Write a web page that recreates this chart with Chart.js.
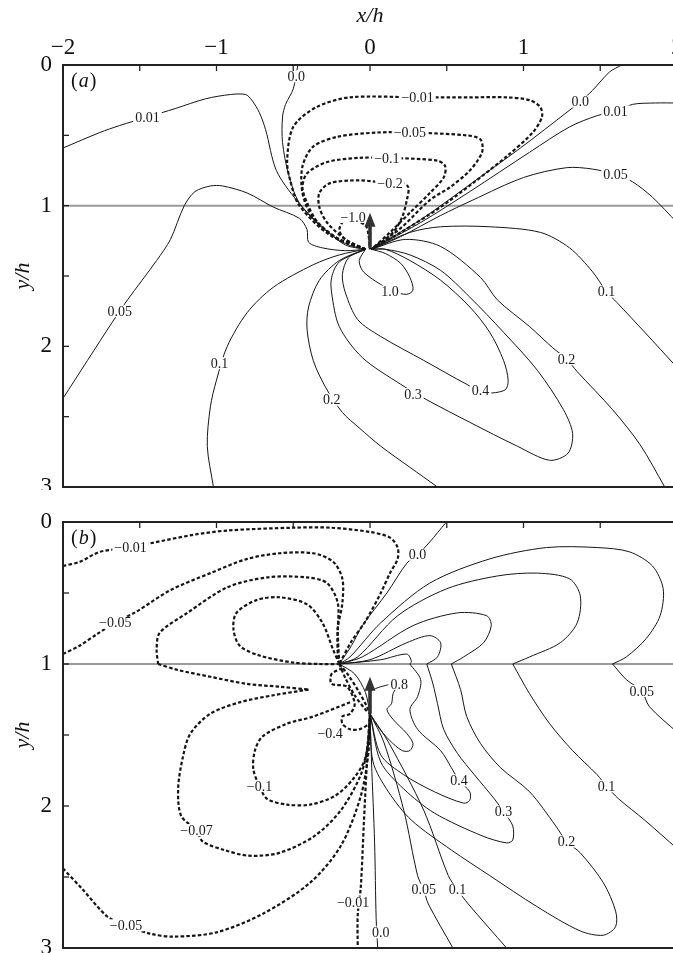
<!DOCTYPE html>
<html><head><meta charset="utf-8">
<script src="https://cdn.jsdelivr.net/npm/chart.js@4.4.1/dist/chart.umd.min.js"></script>
<style>
html,body{margin:0;padding:0;background:#fff;overflow:hidden;width:673px;height:953px;}
#wa{position:absolute;left:0;top:0;width:700px;height:490px;}
#wb{position:absolute;left:0;top:490px;width:700px;height:463px;}
</style></head><body>
<div id="wa"><canvas id="ca" width="700" height="490"></canvas></div>
<div id="wb"><canvas id="cb" width="700" height="463"></canvas></div>
<script>
// ---------- axes ----------
const xRange = [-2, 2];
const yRange = [0, 3];
const xTickMarks = [-2,-1.5,-1,-0.5,0,0.5,1,1.5,2];
const yTickMarks = [0,0.5,1,1.5,2,2.5,3];
const interfaceY = 1;

// ---------- panel (a) contours: [x/h, y/h] ----------
const a_p001L = [[-2.0,0.59],[-1.76,0.48],[-1.63,0.43],[-1.45,0.37],[-1.27,0.31],[-1.07,0.24],[-0.91,0.21],[-0.81,0.21],[-0.77,0.25],[-0.72,0.34],[-0.68,0.46],[-0.61,0.75],[-0.48,0.96],[-0.33,1.14],[-0.16,1.27],[-0.03,1.31]];
const a_p00L = [[-0.47,0],[-0.50,0.17],[-0.55,0.28],[-0.57,0.37],[-0.57,0.55],[-0.53,0.78],[-0.46,0.98],[-0.29,1.17],[-0.16,1.28],[-0.03,1.31]];
const a_p005L = [[-2.0,2.37],[-1.68,1.83],[-1.58,1.67],[-1.39,1.39],[-1.30,1.24],[-1.21,1.0],[-1.14,0.90],[-1.04,0.86],[-0.96,0.86],[-0.80,0.91],[-0.63,1.01],[-0.46,1.09],[-0.41,1.17],[-0.40,1.26],[-0.31,1.30],[-0.16,1.32],[-0.03,1.31]];
const a_p01L = [[-1.02,3.0],[-1.06,2.71],[-1.04,2.43],[-1.0,2.24],[-0.93,2.0],[-0.80,1.76],[-0.63,1.58],[-0.37,1.42],[-0.20,1.35],[-0.03,1.31]];
const a_p02L = [[-0.03,1.31],[-0.20,1.39],[-0.33,1.53],[-0.40,1.72],[-0.41,1.88],[-0.37,2.10],[-0.29,2.29],[-0.18,2.47],[-0.07,2.58],[0.07,2.71],[0.26,2.86],[0.44,3.0]];
const a_p03 = [[-0.03,1.31],[-0.20,1.40],[-0.25,1.51],[-0.25,1.62],[-0.20,1.86],[-0.05,2.08],[0.20,2.27],[0.37,2.38],[0.65,2.54],[0.96,2.71],[1.17,2.81],[1.29,2.76],[1.32,2.62],[1.26,2.45],[1.09,2.17],[0.87,1.90],[0.65,1.65],[0.46,1.46],[0.26,1.35],[0.10,1.31],[0.01,1.31]];
const a_p04 = [[-0.03,1.31],[-0.14,1.37],[-0.18,1.49],[-0.16,1.62],[-0.08,1.81],[0.07,1.93],[0.35,2.10],[0.63,2.27],[0.75,2.33],[0.88,2.31],[0.90,2.24],[0.87,2.10],[0.78,1.90],[0.65,1.72],[0.46,1.53],[0.26,1.39],[0.10,1.31],[0.01,1.31]];
const a_p10 = [[-0.03,1.31],[-0.07,1.39],[-0.05,1.46],[0,1.51],[0.07,1.56],[0.15,1.61],[0.24,1.63],[0.28,1.60],[0.26,1.51],[0.20,1.41],[0.10,1.34],[0.01,1.31]];
const a_p00R = [[0.01,1.31],[0.33,1.10],[0.65,0.85],[0.98,0.59],[1.29,0.33],[1.37,0.26],[1.45,0.18],[1.56,0.05],[1.64,0.0]];
const a_p001R = [[0.01,1.31],[0.33,1.12],[0.65,0.90],[1.04,0.62],[1.30,0.44],[1.48,0.36],[1.60,0.33],[1.71,0.28],[1.86,0.27],[2.0,0.27]];
const a_p005R = [[0.01,1.31],[0.20,1.22],[0.46,1.07],[0.67,0.96],[1.0,0.80],[1.28,0.73],[1.45,0.74],[1.60,0.78],[1.71,0.83],[1.84,0.94],[2.0,1.12]];
const a_p01R = [[0.01,1.31],[0.26,1.19],[0.46,1.15],[0.78,1.15],[1.11,1.19],[1.30,1.30],[1.45,1.47],[1.54,1.61],[1.61,1.69],[1.79,1.90],[2.0,2.15]];
const a_p02R = [[0.01,1.31],[0.23,1.24],[0.46,1.29],[0.72,1.51],[0.83,1.67],[1.04,1.86],[1.19,2.01],[1.28,2.09],[1.35,2.18],[1.58,2.45],[1.76,2.70],[1.92,3.0]];
const a_n001 = [[-0.03,1.31],[-0.26,1.21],[-0.46,1.0],[-0.52,0.82],[-0.54,0.68],[-0.50,0.44],[-0.35,0.30],[-0.13,0.23],[0.31,0.23],[0.65,0.23],[0.89,0.23],[1.04,0.25],[1.11,0.30],[1.12,0.37],[1.06,0.48],[0.89,0.65],[0.67,0.84],[0.46,1.01],[0.20,1.19],[0.01,1.31]];
const a_n005 = [[-0.03,1.31],[-0.23,1.22],[-0.38,1.07],[-0.44,0.91],[-0.44,0.72],[-0.37,0.58],[-0.21,0.51],[0.05,0.48],[0.26,0.48],[0.63,0.50],[0.72,0.53],[0.73,0.62],[0.65,0.75],[0.52,0.87],[0.39,0.96],[0.20,1.16],[0.01,1.31]];
const a_n01 = [[-0.03,1.31],[-0.20,1.24],[-0.34,1.12],[-0.41,0.98],[-0.44,0.87],[-0.41,0.77],[-0.28,0.69],[-0.07,0.66],[0.11,0.66],[0.44,0.68],[0.49,0.72],[0.48,0.80],[0.39,0.91],[0.26,1.05],[0.13,1.19],[0.01,1.31]];
const a_n02 = [[-0.03,1.31],[-0.16,1.24],[-0.28,1.12],[-0.33,1.01],[-0.33,0.91],[-0.26,0.84],[-0.07,0.82],[0.13,0.84],[0.21,0.84],[0.25,0.87],[0.24,0.96],[0.21,1.08],[0.15,1.19],[0.01,1.31]];
const a_n10 = [[-0.03,1.31],[-0.16,1.24],[-0.20,1.17],[-0.15,1.09],[-0.03,1.14],[-0.01,1.21],[0,1.31]];
const a_labels = [["0.01",-1.45,0.37],["0.0",-0.48,0.08],["0.05",-1.63,1.75],["0.1",-0.98,2.12],["0.2",-0.25,2.38],["0.3",0.28,2.34],["0.4",0.72,2.31],["1.0",0.13,1.61],["−1.0",-0.11,1.08],["−0.2",0.13,0.84],["−0.1",0.11,0.66],["−0.05",0.26,0.48],["−0.01",0.31,0.23],["0.0",1.37,0.26],["0.01",1.60,0.33],["0.05",1.60,0.78],["0.1",1.54,1.61],["0.2",1.28,2.09]];
const a_arrow = [0, 1.30, 1.05];

// ---------- panel (b) contours ----------
const b_p00U = [[-0.20,1.0],[-0.12,0.87],[-0.05,0.73],[0.11,0.50],[0.24,0.29],[0.31,0.23],[0.39,0.14],[0.49,0.01],[0.50,0.0]];
const b_p005U = [[-0.20,1.0],[-0.13,0.95],[0.07,0.71],[0.39,0.43],[0.78,0.26],[1.15,0.18],[1.48,0.18],[1.69,0.21],[1.84,0.31],[1.91,0.47],[1.89,0.66],[1.80,0.82],[1.67,0.95],[1.58,1.0]];
const b_p005D = [[1.58,1.0],[1.67,1.11],[1.77,1.19],[1.82,1.30],[2.0,1.48]];
const b_p01U = [[-0.20,1.0],[-0.08,0.95],[0.18,0.66],[0.50,0.47],[0.83,0.38],[1.09,0.36],[1.30,0.40],[1.37,0.52],[1.35,0.71],[1.24,0.85],[1.04,0.95],[0.93,1.0]];
const b_p01D = [[0.93,1.0],[1.04,1.21],[1.17,1.42],[1.32,1.61],[1.48,1.78],[1.54,1.86],[1.62,1.95],[1.79,2.10],[2.0,2.30]];
const b_p02U = [[-0.20,1.0],[-0.05,0.95],[0.28,0.73],[0.57,0.64],[0.76,0.66],[0.79,0.73],[0.74,0.85],[0.61,0.95],[0.53,1.0]];
const b_p02D = [[0.53,1.0],[0.59,1.18],[0.63,1.37],[0.72,1.56],[0.85,1.73],[1.04,1.90],[1.21,2.14],[1.28,2.25],[1.37,2.33],[1.52,2.54],[1.60,2.74],[1.60,2.85],[1.52,2.91],[1.37,2.88],[1.09,2.71],[0.78,2.49],[0.53,2.31],[0.27,2.10],[0.12,1.90],[0.02,1.69],[0,1.35]];
const b_p03U = [[-0.20,1.0],[0,0.97],[0.24,0.85],[0.39,0.80],[0.46,0.85],[0.44,0.95],[0.37,1.0]];
const b_p03D = [[0.37,1.0],[0.41,1.14],[0.44,1.28],[0.48,1.46],[0.57,1.63],[0.68,1.78],[0.81,1.95],[0.87,2.04],[0.93,2.14],[0.93,2.24],[0.89,2.26],[0.73,2.21],[0.42,2.05],[0.22,1.88],[0.07,1.69],[0,1.35]];
const b_p04U = [[-0.20,1.0],[0.07,0.97],[0.24,0.93],[0.27,0.98],[0.26,1.0]];
const b_p04D = [[0.26,1.0],[0.33,1.11],[0.31,1.23],[0.26,1.32],[0.31,1.46],[0.46,1.61],[0.53,1.73],[0.58,1.82],[0.65,1.90],[0.65,1.96],[0.61,1.98],[0.42,1.90],[0.22,1.78],[0.07,1.64],[0,1.35]];
const b_p08 = [[0,1.19],[0.07,1.16],[0.18,1.14],[0.15,1.21],[0.14,1.28],[0.11,1.32],[0.15,1.39],[0.24,1.49],[0.28,1.56],[0.26,1.61],[0.21,1.61],[0.13,1.54],[0.05,1.44],[0.01,1.37]];
const b_p00D = [[0,1.35],[0.01,1.69],[0.03,2.26],[0.04,2.79],[0.05,3.0]];
const b_p005B = [[0,1.35],[0.09,1.55],[0.22,2.03],[0.31,2.49],[0.35,2.59],[0.38,2.69],[0.54,3.0]];
const b_p01B = [[0,1.35],[0.12,1.55],[0.35,2.03],[0.51,2.49],[0.57,2.59],[0.64,2.69],[0.89,3.0]];
const b_bandS = [[-0.20,1.0],[-0.10,1.07],[-0.03,1.2],[0,1.35]];
const b_n001U = [[-2.0,0.31],[-1.89,0.28],[-1.76,0.21],[-1.56,0.18],[-1.43,0.15],[-1.15,0.09],[-0.93,0.06],[-0.50,0.04],[-0.26,0.04],[0,0.07],[0.13,0.11],[0.18,0.18],[0.18,0.26],[0.13,0.36],[0.07,0.50],[-0.03,0.70],[-0.12,0.84],[-0.20,1.0]];
const b_n005U = [[-2.0,0.93],[-1.89,0.87],[-1.78,0.79],[-1.66,0.71],[-1.52,0.63],[-1.30,0.48],[-1.04,0.36],[-0.80,0.26],[-0.59,0.22],[-0.37,0.22],[-0.24,0.28],[-0.18,0.40],[-0.18,0.57],[-0.21,0.75],[-0.21,0.94],[-0.20,1.0]];
const b_n007U = [[-0.20,1.0],[-0.21,0.78],[-0.21,0.57],[-0.28,0.43],[-0.41,0.39],[-0.67,0.39],[-0.93,0.46],[-1.19,0.64],[-1.37,0.78],[-1.39,0.90],[-1.38,1.0]];
const b_n007M = [[-1.38,1.0],[-1.26,1.04],[-1.04,1.09],[-0.80,1.14],[-0.59,1.16],[-0.40,1.18]];
const b_n007D = [[-0.40,1.18],[-0.63,1.22],[-0.85,1.27],[-1.04,1.35],[-1.17,1.49],[-1.22,1.66],[-1.25,1.88],[-1.23,2.07],[-1.13,2.17],[-1.09,2.25],[-0.95,2.31],[-0.79,2.35],[-0.59,2.33],[-0.36,2.21],[-0.19,2.03],[-0.06,1.78],[-0.01,1.55],[0,1.35]];
const b_nLoop = [[-0.20,1.0],[-0.24,0.90],[-0.31,0.71],[-0.41,0.58],[-0.59,0.53],[-0.74,0.55],[-0.87,0.64],[-0.89,0.75],[-0.85,0.87],[-0.72,0.94],[-0.50,0.99],[-0.33,1.0],[-0.20,1.0]];
const b_n01D = [[-0.13,1.27],[-0.37,1.37],[-0.54,1.42],[-0.70,1.51],[-0.75,1.61],[-0.76,1.74],[-0.72,1.86],[-0.67,1.95],[-0.54,1.99],[-0.39,1.99],[-0.23,1.93],[-0.11,1.81],[-0.03,1.66],[0,1.35]];
const b_n04 = [[-0.18,1.03],[-0.25,1.07],[-0.25,1.14],[-0.15,1.16],[-0.10,1.28],[-0.13,1.35],[-0.18,1.37],[-0.18,1.42],[-0.13,1.46],[-0.07,1.46],[0,1.42]];
const b_n005D = [[-2.0,2.44],[-1.87,2.59],[-1.71,2.78],[-1.59,2.84],[-1.43,2.90],[-1.28,2.92],[-1.0,2.89],[-0.70,2.76],[-0.39,2.54],[-0.19,2.28],[-0.06,1.93],[-0.01,1.62],[0,1.35]];
const b_n001D = [[0,1.35],[-0.02,1.69],[-0.04,2.12],[-0.06,2.57],[-0.08,2.77],[-0.08,3.0]];
const b_bandD1 = [[-0.20,1.0],[-0.14,1.08],[-0.07,1.2],[-0.02,1.3],[0,1.35]];
const b_bandD2 = [[-0.20,1.0],[-0.16,1.10],[-0.10,1.22],[-0.03,1.32],[0,1.35]];
const b_labels = [["−0.01",-1.56,0.18],["−0.05",-1.66,0.71],["0.0",0.31,0.23],["0.8",0.19,1.14],["−0.4",-0.26,1.49],["0.05",1.77,1.19],["0.4",0.58,1.82],["0.3",0.87,2.04],["−0.1",-0.72,1.86],["0.1",1.54,1.86],["−0.07",-1.13,2.17],["0.2",1.28,2.25],["−0.05",-1.59,2.84],["−0.01",-0.11,2.68],["0.05",0.35,2.59],["0.1",0.57,2.59],["0.0",0.07,2.89]];
const b_arrow = [0, 1.35, 1.09];

// ---------- styling / building ----------
const SOLID = {c:'#151515', w:1, d:[]};
const DASH = {c:'#151515', w:2.2, d:[3.5,2.2]};
function ds(arr, st){
  return {data: arr.map(p=>({x:p[0], y:p[1]})), showLine:true, pointRadius:0, pointHoverRadius:0,
    borderColor:st.c, borderWidth:st.w, borderDash:st.d, tension:0.3, fill:false, order:1};
}
function gray(){
  return {data: xRange.map(v=>({x:v, y:interfaceY})), showLine:true, pointRadius:0,
    borderColor:'#9a9a9a', borderWidth:2, tension:0, fill:false, order:50};
}
const SERIF = '"Liberation Serif", "Times New Roman", serif';
function fmt(v){ return (v<0?'−':'') + Math.abs(v); }

function decor(labels, arrow, letter){
  return {
    id:'decor',
    afterDatasetsDraw(chart){
      const ctx = chart.ctx, ca = chart.chartArea, x = chart.scales.x, y = chart.scales.y;
      ctx.save();
      ctx.font = '14px ' + SERIF;
      ctx.textAlign = 'center'; ctx.textBaseline = 'middle';
      for (const [t,vx,vy] of labels){
        const px = x.getPixelForValue(vx), py = y.getPixelForValue(vy);
        const w = ctx.measureText(t).width;
        ctx.fillStyle = '#fff'; ctx.fillRect(px-w/2-2, py-6, w+4, 12);
        ctx.fillStyle = '#1a1a1a'; ctx.fillText(t, px, py+1);
      }
      // arrow
      const ax = x.getPixelForValue(arrow[0]), ab = y.getPixelForValue(arrow[1]), at = y.getPixelForValue(arrow[2]);
      ctx.fillStyle = '#333';
      ctx.fillRect(ax-1.8, at+11, 3.6, ab-at-11);
      ctx.beginPath(); ctx.moveTo(ax, at); ctx.lineTo(ax-5.5, at+14); ctx.lineTo(ax+5.5, at+14); ctx.closePath(); ctx.fill();
      // frame
      ctx.strokeStyle = '#222'; ctx.lineWidth = 2;
      ctx.strokeRect(ca.left, ca.top, ca.right-ca.left, ca.bottom-ca.top);
      ctx.lineWidth = 1.3;
      for (const v of xTickMarks){ const p = x.getPixelForValue(v); ctx.beginPath(); ctx.moveTo(p, ca.top); ctx.lineTo(p, ca.top+6); ctx.stroke(); }
      for (const v of yTickMarks){ const p = y.getPixelForValue(v); ctx.beginPath(); ctx.moveTo(ca.left, p); ctx.lineTo(ca.left+6, p); ctx.stroke(); }
      // panel letter
      ctx.textAlign = 'left'; ctx.textBaseline = 'alphabetic'; ctx.fillStyle = '#111';
      let lx = ca.left + 8, ly = ca.top + 22;
      ctx.font = '20px ' + SERIF; ctx.fillText('(', lx, ly); lx += ctx.measureText('(').width + 1;
      ctx.font = 'italic 20px ' + SERIF; ctx.fillText(letter, lx, ly); lx += ctx.measureText(letter).width + 1;
      ctx.font = '20px ' + SERIF; ctx.fillText(')', lx, ly);
      ctx.restore();
    }
  };
}

function yScale(){
  return {type:'linear', position:'left', min:yRange[0], max:yRange[1], reverse:true,
    grid:{display:false, drawTicks:false}, border:{display:false},
    ticks:{stepSize:1, autoSkip:false, padding:11, color:'#111', font:{family:SERIF, size:23}, callback:fmt},
    title:{display:true, text:'y/h', color:'#111', font:{family:SERIF, size:22, style:'italic'}, padding:{top:10, bottom:0}},
    afterFit(s){ s.width = 63; s.paddingTop = 0; s.paddingBottom = 0; }
  };
}

function makeChart(id, datasets, xCfg, pad, labels, arrow, letter){
  return new Chart(document.getElementById(id), {
    type:'scatter',
    data:{datasets},
    options:{
      responsive:false, animation:false, devicePixelRatio:1, events:[],
      layout:{padding:pad, autoPadding:false},
      plugins:{legend:{display:false}, tooltip:{enabled:false}},
      scales:{x:xCfg, y:yScale()}
    },
    plugins:[decor(labels, arrow, letter)]
  });
}

const dsA = [
  ...[a_p001L,a_p00L,a_p005L,a_p01L,a_p02L,a_p03,a_p04,a_p10,a_p00R,a_p001R,a_p005R,a_p01R,a_p02R].map(a=>ds(a,SOLID)),
  ...[a_n001,a_n005,a_n01,a_n02,a_n10].map(a=>ds(a,DASH)),
  gray()
];
const dsB = [
  ...[b_p00U,b_p005U,b_p005D,b_p01U,b_p01D,b_p02U,b_p02D,b_p03U,b_p03D,b_p04U,b_p04D,b_p08,b_p00D,b_p005B,b_p01B,b_bandS].map(a=>ds(a,SOLID)),
  ...[b_n001U,b_n005U,b_n007U,b_n007M,b_n007D,b_nLoop,b_n01D,b_n04,b_n005D,b_n001D,b_bandD1,b_bandD2].map(a=>ds(a,DASH)),
  gray()
];

const xA = {type:'linear', position:'top', min:xRange[0], max:xRange[1],
  grid:{display:false, drawTicks:false}, border:{display:false},
  ticks:{stepSize:1, autoSkip:false, padding:3, maxRotation:0, color:'#111', font:{family:SERIF, size:23}, callback:fmt},
  title:{display:true, text:'x/h', color:'#111', font:{family:SERIF, size:22, style:'italic'}, padding:{top:3, bottom:0}},
  afterFit(s){ s.height = 65; s.paddingLeft = 0; s.paddingRight = 0; }
};
const xB = {type:'linear', position:'top', min:xRange[0], max:xRange[1], display:false};

makeChart('ca', dsA, xA, {left:0, right:23, top:0, bottom:3}, a_labels, a_arrow, 'a');
makeChart('cb', dsB, xB, {left:0, right:23, top:32, bottom:5}, b_labels, b_arrow, 'b');
</script>
</body></html>
